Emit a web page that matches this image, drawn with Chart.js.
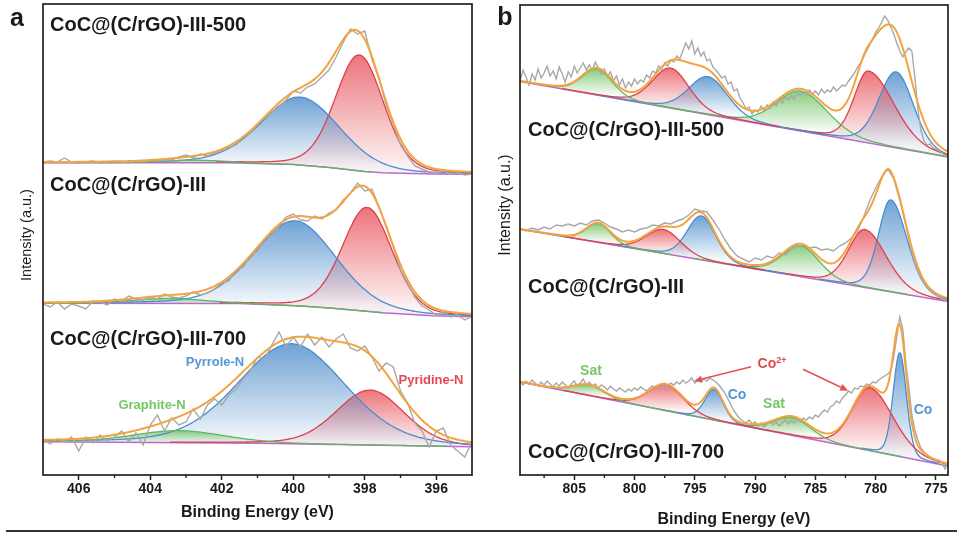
<!DOCTYPE html>
<html>
<head>
<meta charset="utf-8">
<title>XPS N 1s and Co 2p</title>
<script src="https://cdn.jsdelivr.net/npm/chart.js@4.4.1/dist/chart.umd.min.js"></script>
<style>
  html, body { margin: 0; padding: 0; background: #fff; }
  body { width: 957px; height: 536px; position: relative; overflow: hidden;
         font-family: "Liberation Sans", Arial, sans-serif; color: #1a1a1a; }
  canvas { position: absolute; top: 0; }
  #chartA { left: 0; }
  #chartB { left: 480px; }
  .t { position: absolute; white-space: nowrap; line-height: 1; transform: translate(0, -50%); }
  .c { position: absolute; white-space: nowrap; line-height: 1; transform: translate(-50%, -50%); }
  .name { font-weight: bold; font-size: 20px; }
  .letter { font-weight: bold; font-size: 25px; }
  .ylab { position: absolute; white-space: nowrap; line-height: 1; transform: translate(-50%, -50%) rotate(-90deg); }
  .tag { font-weight: bold; font-size: 13px; }
  .red { color: rgb(228, 72, 80); }
  .blue { color: rgb(86, 150, 210); }
  .green { color: rgb(118, 198, 104); }
  .rule { position: absolute; left: 6px; width: 951px; top: 530px; height: 2px; background: #333; }
</style>
</head>
<body>
<canvas id="chartA" width="480" height="536"></canvas>
<canvas id="chartB" width="477" height="536"></canvas>

<div class="c letter" style="left:17px;top:17px">a</div>
<div class="c letter" style="left:505px;top:16px">b</div>

<div class="ylab" style="left:26px;top:235px;font-size:14.5px">Intensity (a.u.)</div>
<div class="ylab" style="left:505px;top:205px;font-size:16px">Intensity (a.u.)</div>

<div class="t name" style="left:50px;top:24px">CoC@(C/rGO)-III-500</div>
<div class="t name" style="left:50px;top:184px">CoC@(C/rGO)-III</div>
<div class="t name" style="left:50px;top:338px">CoC@(C/rGO)-III-700</div>
<div class="t name" style="left:528px;top:129px">CoC@(C/rGO)-III-500</div>
<div class="t name" style="left:528px;top:286px">CoC@(C/rGO)-III</div>
<div class="t name" style="left:528px;top:451px">CoC@(C/rGO)-III-700</div>

<div class="c tag blue" style="left:215px;top:361px">Pyrrole-N</div>
<div class="c tag red" style="left:431px;top:379px">Pyridine-N</div>
<div class="c tag green" style="left:152px;top:404px">Graphite-N</div>

<div class="c tag green" style="left:591px;top:370px;font-size:14px">Sat</div>
<div class="c tag green" style="left:774px;top:403px;font-size:14px">Sat</div>
<div class="c tag blue" style="left:737px;top:394px;font-size:14px">Co</div>
<div class="c tag blue" style="left:923px;top:409px;font-size:14px">Co</div>
<div class="c tag red" style="left:772px;top:363px;font-size:14px">Co<sup style="font-size:9px">2+</sup></div>

<div class="rule"></div>

<script>
"use strict";

// ---------- panel a: N 1s, raw counts every 0.2 eV from 407 eV down ----------
const startA = 407;
const stepA = 0.2;

const rawA500 = [313, 314, 313, 317, 313, 312, 313, 314, 312, 313, 314, 313, 312, 314, 313,
  315, 314, 316, 315, 318, 320, 317, 321, 319, 322, 325, 328, 330, 338, 342, 351, 357, 363,
  368, 375, 384, 382, 388, 391, 398, 405, 418, 433, 446, 441, 444, 416, 396, 370, 351, 330,
  319, 309, 306, 303, 302, 304, 301, 302, 300, 301];

const rawAIII = [171, 168, 173, 166, 171, 169, 166, 174, 173, 170, 176, 174, 179, 176, 175,
  178, 176, 181, 178, 177, 179, 183, 180, 182, 186, 192, 194, 205, 208, 220, 224, 236, 240,
  249, 258, 261, 255, 254, 259, 256, 262, 265, 275, 282, 292, 284, 286, 268, 248, 228, 205,
  192, 178, 169, 165, 160, 163, 158, 160, 155, 159];

const rawA700 = [36, 31, 36, 33, 38, 24, 38, 32, 40, 34, 38, 44, 33, 42, 30, 50, 60, 44, 57,
  50, 53, 66, 56, 70, 76, 70, 80, 86, 96, 104, 118, 116, 130, 143, 128, 138, 128, 141, 130,
  138, 128, 136, 141, 127, 124, 129, 118, 104, 112, 108, 84, 72, 52, 44, 28, 44, 47, 30, 24,
  18, 34];

// background (eV, intensity) and fitted peaks:
// [centre eV, height, FWHM on high-energy side, FWHM on low-energy side, colour]
const baseA500 = [[407, 312.3], [401.8, 312.3], [400, 310.5], [399, 307.5], [398.5, 305.5],
  [398, 303.5], [397.5, 302.3], [397, 301.7], [396, 301], [395, 300.7]];
const peaksA500 = [[402.8, 2.5, 2.0, 2.0, "green"], [399.8, 68, 2.6, 2.6, "blue"],
  [398.15, 116, 1.6, 1.6, "red"]];

const baseAIII = [[407, 171.7], [401.5, 171.5], [399.8, 169], [398.9, 166.7], [397.5, 162.3],
  [396.1, 159.3], [395, 158.3]];
const peaksAIII = [[403.5, 5, 2.4, 2.4, "green"], [399.95, 85, 2.7, 2.7, "blue"],
  [397.93, 104, 1.65, 1.65, "red"]];

const baseA700 = [[407, 33.3], [401, 31.8], [398, 30], [395, 28.3]];
const peaksA700 = [[403.2, 12, 3.0, 3.0, "green"], [400.05, 100, 3.53, 3.53, "blue"],
  [397.85, 55, 2.24, 2.24, "red"]];

// ---------- panel b: Co 2p, raw counts from 809.5 eV down ----------
const startB = 809.5;
const stepB500 = 0.25;
const stepBIII = 0.5;
const stepB700 = 0.25;

const rawB500 = [394, 405, 398, 390, 401, 395, 406, 397, 402, 409, 399, 404, 396, 408, 401,
  393, 403, 398, 409, 402, 407, 412, 405, 410, 404, 413, 407, 401, 406, 398, 403, 394, 399,
  390, 396, 387, 393, 389, 396, 391, 395, 393, 400, 397, 404, 402, 409, 406, 412, 409, 415,
  413, 419, 416, 424, 432, 426, 434, 421, 427, 419, 423, 414, 416, 408, 405, 401, 397, 399,
  391, 393, 384, 386, 377, 372, 366, 368, 361, 365, 363, 369, 364, 370, 367, 373, 369, 375,
  372, 378, 375, 379, 376, 382, 379, 383, 380, 385, 381, 384, 380, 386, 382, 385, 383, 388,
  384, 387, 390, 389, 394, 398, 402, 408, 412, 418, 424, 430, 436, 443, 447, 453, 459, 455,
  448, 441, 432, 424, 418, 423, 427, 424, 398, 366, 345, 334, 330, 331, 327, 326, 324, 322,
  320, 319];

const rawBIII = [246, 244, 247, 245, 248, 246, 250, 249, 251, 249, 252, 250, 254, 255, 252,
  248, 246, 243, 245, 243, 246, 247, 250, 249, 252, 251, 254, 256, 260, 266, 264, 263, 255,
  246, 235, 226, 219, 216, 213, 217, 215, 219, 217, 222, 220, 226, 229, 230, 227, 228, 225,
  226, 224, 229, 232, 237, 244, 258, 274, 287, 298, 306, 296, 275, 250, 222, 204, 192, 184,
  180, 176, 174];

const rawB700 = [93, 90, 94, 91, 95, 92, 89, 93, 90, 94, 91, 88, 92, 89, 93, 90, 87, 91, 94,
  89, 92, 96, 90, 93, 89, 91, 87, 90, 88, 85, 89, 86, 84, 87, 85, 83, 86, 84, 87, 85, 88, 86,
  84, 87, 89, 86, 90, 88, 91, 88, 92, 90, 93, 91, 95, 92, 94, 97, 92, 95, 93, 96, 94, 97, 95,
  93, 90, 86, 82, 76, 70, 64, 60, 56, 54, 52, 55, 51, 53, 49, 52, 48, 51, 54, 50, 53, 49, 52,
  55, 51, 54, 52, 56, 53, 57, 55, 58, 56, 60, 58, 62, 65, 63, 68, 70, 74, 72, 77, 80, 84, 82,
  87, 86, 89, 88, 91, 90, 93, 92, 95, 97, 99, 101, 104, 118, 138, 158, 146, 112, 88, 60, 45,
  35, 27, 23, 20, 17, 16, 14, 15, 12, 6, 14];

const baseB500 = [[809.5, 393.5], [774, 318]];
const peaksB500 = [[803.1, 26, 3.0, 3.0, "green"], [797.0, 40, 3.6, 3.6, "red"],
  [793.9, 38, 3.8, 3.8, "blue"], [786.2, 40, 4.8, 5.2, "green"], [780.6, 72, 2.8, 5.0, "red"],
  [778.3, 76, 3.4, 3.4, "blue"]];

const baseBIII = [[809.5, 245.7], [774, 173.5]];
const peaksBIII = [[803.0, 19, 2.4, 2.4, "green"], [797.6, 24, 3.4, 3.4, "red"],
  [794.45, 44, 2.8, 2.8, "blue"], [786.2, 31, 3.6, 3.6, "green"], [780.9, 58, 3.2, 4.2, "red"],
  [778.75, 92, 2.4, 3.2, "blue"]];

const baseB700 = [[809.5, 93], [774, 9]];
const peaksB700 = [[803.8, 10.5, 3.0, 3.0, "green"], [797.4, 26, 3.4, 3.4, "red"],
  [793.4, 30.7, 1.8, 1.8, "blue"], [786.9, 18, 3.6, 3.6, "green"], [780.5, 63, 3.4, 4.6, "red"],
  [778.0, 104, 1.3, 1.3, "blue"]];

// Co2+ arrows: [from eV, from y, to eV, to y] on the bottom spectrum
const arrowsB = [[790.33, 108.3, 795.06, 94], [786.03, 105.7, 782.28, 84.3]];

const LOR_MIX = 0.2;
const FONT = "'Liberation Sans', Arial, sans-serif";

const palette = {
  red: { line: "rgb(222,64,74)", fill: "232,92,100" },
  blue: { line: "rgb(72,142,206)", fill: "86,146,205" },
  green: { line: "rgb(96,184,92)", fill: "118,196,106" },
};

function baseAt(anchors, e) {
  if (e >= anchors[0][0]) return anchors[0][1];
  for (let i = 1; i < anchors.length; i++) {
    const [e1, y1] = anchors[i - 1];
    const [e2, y2] = anchors[i];
    if (e >= e2) return y1 + ((y2 - y1) * (e - e1)) / (e2 - e1);
  }
  return anchors[anchors.length - 1][1];
}

// Gaussian-Lorentzian line shape of one fitted component (may be asymmetric)
function peakAt(peak, e) {
  const [c, h, wHigh, wLow] = peak;
  const w = e >= c ? wHigh : wLow;
  const u = (4 * (e - c) * (e - c)) / (w * w);
  return h * ((1 - LOR_MIX) * Math.exp(-Math.LN2 * u) + LOR_MIX / (1 + u));
}

function gradientFor(rgb, topVal, botVal) {
  return (ctx) => {
    const chart = ctx.chart;
    const y = chart.scales.y;
    if (!chart.chartArea || !y) return `rgba(${rgb},0.4)`;
    const g = chart.ctx.createLinearGradient(0, y.getPixelForValue(topVal), 0, y.getPixelForValue(botVal));
    g.addColorStop(0, `rgba(${rgb},0.85)`);
    g.addColorStop(1, `rgba(${rgb},0.05)`);
    return g;
  };
}

function buildDatasets(spectra, lo, hi, fine) {
  const sets = [];
  spectra.forEach((s) => {
    const baseIndex = sets.length;
    sets.push({
      data: s.base.map(([x, y]) => ({ x, y })),
      borderColor: "rgb(188,104,210)",
      borderWidth: 1.5,
      fill: false,
      order: 3,
    });

    s.peaks.forEach((p) => {
      const [c, h, wHigh, wLow, key] = p;
      const from = Math.min(hi, c + 2.5 * wHigh);
      const to = Math.max(lo, c - 2.5 * wLow);
      const n = Math.round((from - to) / fine);
      const pts = [];
      for (let k = 0; k <= n; k++) {
        const e = from - ((from - to) * k) / n;
        pts.push({ x: e, y: baseAt(s.base, e) + peakAt(p, e) });
      }
      const bottom = baseAt(s.base, c);
      sets.push({
        data: pts,
        borderColor: palette[key].line,
        borderWidth: 1.3,
        fill: baseIndex,
        backgroundColor: gradientFor(palette[key].fill, bottom + h, bottom),
        order: 2,
      });
    });

    sets.push({
      data: s.raw.map((y, i) => ({ x: s.start - i * s.step, y })),
      borderColor: "rgb(168,168,168)",
      borderWidth: 1.4,
      fill: false,
      order: 1,
    });

    const env = [];
    const n = Math.round((hi - lo) / fine);
    for (let k = 0; k <= n; k++) {
      const e = hi - k * fine;
      let y = baseAt(s.base, e);
      s.peaks.forEach((p) => { y += peakAt(p, e); });
      env.push({ x: e, y });
    }
    sets.push({
      data: env,
      borderColor: "rgb(244,163,64)",
      borderWidth: 2,
      fill: false,
      order: 0,
    });
  });
  return sets;
}

function framePlugin(majorStep, arrows) {
  return {
    id: "frame",
    afterDraw(chart) {
      const { ctx, chartArea: a, scales } = chart;
      const x = scales.x;
      const y = scales.y;
      ctx.save();
      ctx.strokeStyle = "#222";
      ctx.lineWidth = 1.4;
      x.ticks.forEach((t) => {
        if (Math.abs(t.value / majorStep - Math.round(t.value / majorStep)) < 1e-6) return;
        const px = x.getPixelForValue(t.value);
        if (px <= a.left + 1 || px >= a.right - 1) return;
        ctx.beginPath();
        ctx.moveTo(px, a.bottom);
        ctx.lineTo(px, a.bottom + 3);
        ctx.stroke();
      });
      ctx.lineWidth = 1.7;
      ctx.strokeRect(a.left, a.top, a.right - a.left, a.bottom - a.top);

      ctx.strokeStyle = "rgb(230,80,85)";
      ctx.fillStyle = "rgb(230,80,85)";
      ctx.lineWidth = 1.5;
      arrows.forEach(([e0, v0, e1, v1]) => {
        const x0 = x.getPixelForValue(e0), y0 = y.getPixelForValue(v0);
        const x1 = x.getPixelForValue(e1), y1 = y.getPixelForValue(v1);
        const ang = Math.atan2(y1 - y0, x1 - x0);
        const len = 8, half = 3.5;
        const bx = x1 - len * Math.cos(ang), by = y1 - len * Math.sin(ang);
        ctx.beginPath();
        ctx.moveTo(x0, y0);
        ctx.lineTo(bx, by);
        ctx.stroke();
        ctx.beginPath();
        ctx.moveTo(x1, y1);
        ctx.lineTo(bx + half * Math.sin(ang), by - half * Math.cos(ang));
        ctx.lineTo(bx - half * Math.sin(ang), by + half * Math.cos(ang));
        ctx.closePath();
        ctx.fill();
      });
      ctx.restore();
    },
  };
}

function makeChart(canvasId, cfg) {
  return new Chart(document.getElementById(canvasId), {
    type: "line",
    data: { datasets: cfg.datasets },
    options: {
      responsive: false,
      devicePixelRatio: 1,
      animation: false,
      events: [],
      layout: { padding: cfg.padding },
      elements: { point: { radius: 0 }, line: { tension: 0 } },
      plugins: {
        legend: { display: false },
        tooltip: { enabled: false },
        filler: { drawTime: "beforeDatasetsDraw" },
      },
      scales: {
        x: {
          type: "linear",
          reverse: true,
          min: cfg.min,
          max: cfg.max,
          afterFit: (s) => { s.height = 61; },
          border: { display: false },
          grid: {
            drawOnChartArea: false,
            tickLength: 5,
            tickWidth: 1.5,
            tickColor: (c) => (c.tick && c.tick.value % cfg.major === 0 ? "#222" : "rgba(0,0,0,0)"),
          },
          ticks: {
            stepSize: cfg.step,
            includeBounds: false,
            autoSkip: false,
            maxRotation: 0,
            padding: 1,
            color: "#1a1a1a",
            font: { family: FONT, size: 14, weight: "bold" },
            callback: (v) => (v % cfg.major === 0 ? String(v) : ""),
          },
          title: {
            display: true,
            text: "Binding Energy (eV)",
            color: "#1a1a1a",
            font: { family: FONT, size: 16, weight: "bold" },
            padding: { top: 0, bottom: cfg.titlePad },
          },
        },
        y: { display: false, min: 0, max: cfg.ymax },
      },
    },
    plugins: [framePlugin(cfg.major, cfg.arrows)],
  });
}

const spectraA = [
  { raw: rawA500, start: startA, step: stepA, base: baseA500, peaks: peaksA500 },
  { raw: rawAIII, start: startA, step: stepA, base: baseAIII, peaks: peaksAIII },
  { raw: rawA700, start: startA, step: stepA, base: baseA700, peaks: peaksA700 },
];
const spectraB = [
  { raw: rawB500, start: startB, step: stepB500, base: baseB500, peaks: peaksB500 },
  { raw: rawBIII, start: startB, step: stepBIII, base: baseBIII, peaks: peaksBIII },
  { raw: rawB700, start: startB, step: stepB700, base: baseB700, peaks: peaksB700 },
];

makeChart("chartA", {
  datasets: buildDatasets(spectraA, 395, 407, 0.05),
  padding: { left: 43, right: 8, top: 4, bottom: 0 },
  min: 395, max: 407, step: 1, major: 2, ymax: 471, titlePad: 14, arrows: [],
});

makeChart("chartB", {
  datasets: buildDatasets(spectraB, 774, 809.5, 0.1),
  padding: { left: 40, right: 9, top: 5, bottom: 0 },
  min: 774, max: 809.5, step: 2.5, major: 5, ymax: 470, titlePad: 7, arrows: arrowsB,
});
</script>
</body>
</html>
